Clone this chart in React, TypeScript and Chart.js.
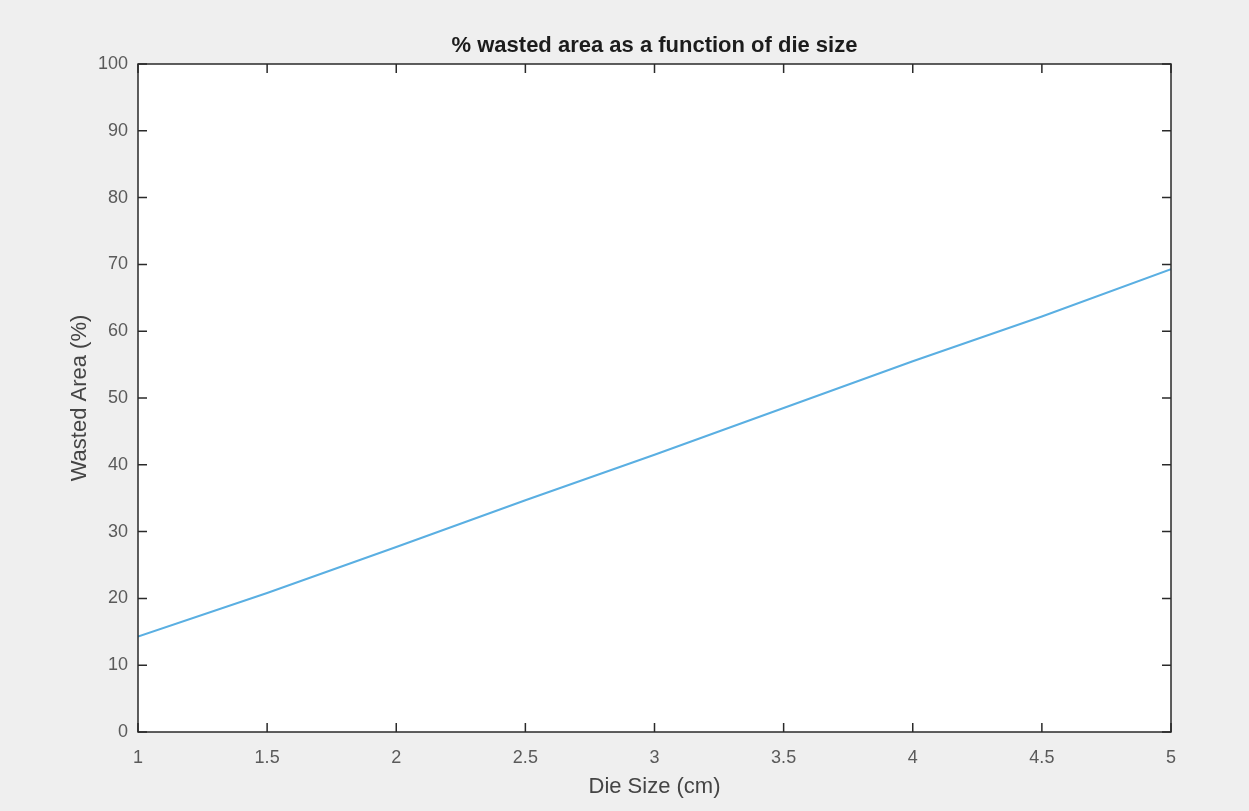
import React, { useEffect, useRef } from "react";
import { Chart, registerables } from "chart.js";

Chart.register(...registerables);

const dieSizes = [1, 1.5, 2, 2.5, 3, 3.5, 4, 4.5, 5];
const wastedArea = [14.3, 20.8, 27.7, 34.7, 41.5, 48.5, 55.5, 62.2, 69.3];
const xTicks = [1, 1.5, 2, 2.5, 3, 3.5, 4, 4.5, 5];
const yTicks = [0, 10, 20, 30, 40, 50, 60, 70, 80, 90, 100];

const chartTitle = "% wasted area as a function of die size";
const xLabel = "Die Size (cm)";
const yLabel = "Wasted Area (%)";

const FONT = "'Liberation Sans', Arial, Helvetica, sans-serif";

const framePlugin = {
  id: "matlabFrame",
  beforeDraw(chart: any) {
    const { ctx, chartArea: a, width, height } = chart;
    ctx.save();
    ctx.fillStyle = "#efefef";
    ctx.fillRect(0, 0, width, height);
    ctx.fillStyle = "#ffffff";
    ctx.fillRect(a.left, a.top, a.right - a.left, a.bottom - a.top);
    ctx.restore();
  },
  afterDatasetsDraw(chart: any) {
    const { ctx, chartArea: a, scales } = chart;
    const len = 9;
    ctx.save();
    ctx.strokeStyle = "#2a2a2a";
    ctx.lineWidth = 1.5;
    ctx.strokeRect(a.left, a.top, a.right - a.left, a.bottom - a.top);
    ctx.beginPath();
    xTicks.forEach((v) => {
      const px = scales.x.getPixelForValue(v);
      ctx.moveTo(px, a.bottom);
      ctx.lineTo(px, a.bottom - len);
      ctx.moveTo(px, a.top);
      ctx.lineTo(px, a.top + len);
    });
    yTicks.forEach((v) => {
      const py = scales.y.getPixelForValue(v);
      ctx.moveTo(a.left, py);
      ctx.lineTo(a.left + len, py);
      ctx.moveTo(a.right, py);
      ctx.lineTo(a.right - len, py);
    });
    ctx.stroke();
    ctx.fillStyle = "#1c1c1c";
    ctx.font = `bold 22px ${FONT}`;
    ctx.textAlign = "center";
    ctx.textBaseline = "middle";
    ctx.fillText(chartTitle, (a.left + a.right) / 2, 46);
    ctx.restore();
  },
};

export default function App() {
  const canvasRef = useRef<HTMLCanvasElement | null>(null);

  useEffect(() => {
    if (!canvasRef.current) return;
    const chart = new Chart(canvasRef.current, {
      type: "line",
      data: {
        datasets: [
          {
            data: dieSizes.map((x, i) => ({ x, y: wastedArea[i] })),
            borderColor: "#5aafe2",
            borderWidth: 2,
            pointRadius: 0,
            tension: 0,
            fill: false,
          },
        ],
      },
      options: {
        responsive: false,
        animation: false,
        layout: { padding: { left: 0, right: 78, top: 64, bottom: 0 } },
        plugins: {
          legend: { display: false },
          tooltip: { enabled: false },
          title: { display: false },
        },
        scales: {
          x: {
            type: "linear",
            min: 1,
            max: 5,
            afterFit: (s: any) => {
              s.height = 79;
            },
            afterBuildTicks: (s: any) => {
              s.ticks = xTicks.map((v) => ({ value: v }));
            },
            grid: { display: false, drawTicks: false },
            border: { display: false },
            ticks: {
              padding: 15,
              color: "#5a5a5a",
              font: { family: FONT, size: 18 },
              maxRotation: 0,
              autoSkip: false,
              callback: (v: any) => String(Number(v)),
            },
            title: {
              display: true,
              text: xLabel,
              color: "#444444",
              font: { family: FONT, size: 22 },
              padding: { top: 0, bottom: 11 },
            },
          },
          y: {
            type: "linear",
            min: 0,
            max: 100,
            afterFit: (s: any) => {
              s.width = 138;
            },
            afterBuildTicks: (s: any) => {
              s.ticks = yTicks.map((v) => ({ value: v }));
            },
            grid: { display: false, drawTicks: false },
            border: { display: false },
            ticks: {
              padding: 10,
              color: "#5a5a5a",
              font: { family: FONT, size: 18 },
              autoSkip: false,
              callback: (v: any) => String(Number(v)),
            },
            title: {
              display: true,
              text: yLabel,
              color: "#444444",
              font: { family: FONT, size: 22 },
              padding: { top: 67, bottom: 0 },
            },
          },
        },
      },
      plugins: [framePlugin],
    });
    return () => chart.destroy();
  }, []);

  return (
    <div style={{ position: "absolute", left: 0, top: 0, width: 1249, height: 811 }}>
      <canvas ref={canvasRef} width={1249} height={811} style={{ display: "block" }} />
    </div>
  );
}
